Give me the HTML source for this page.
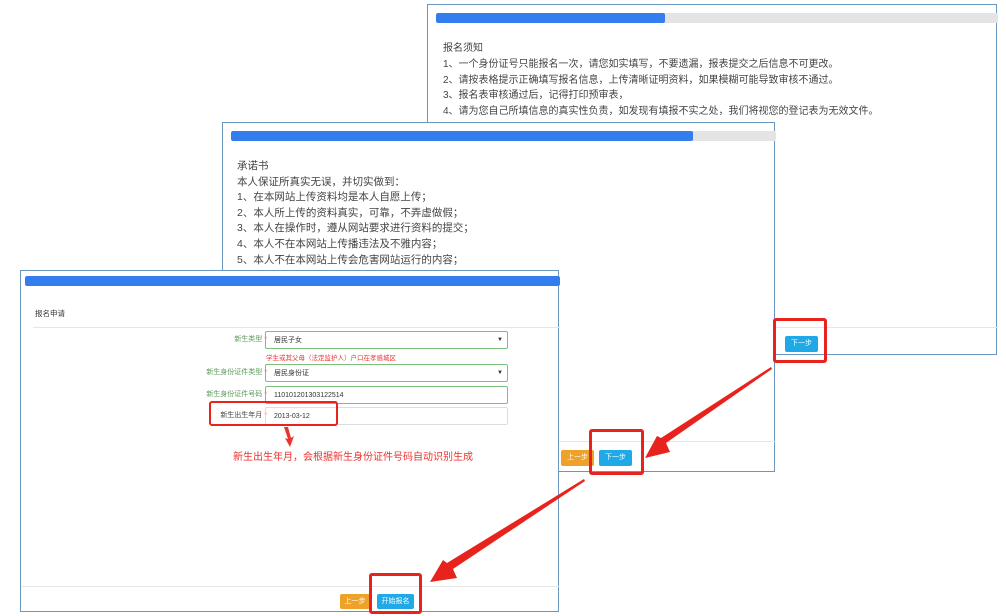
<!DOCTYPE html>
<html><head><meta charset="utf-8"><style>
*{margin:0;padding:0;box-sizing:border-box}
body{width:1006px;height:616px;background:#fff;position:relative;overflow:hidden;font-family:"Liberation Sans","Noto Sans CJK SC",sans-serif;color:#444}
.p{position:absolute;background:#fff;border:1px solid #6a97bf}
.a{position:absolute}
.bar{position:absolute;background:#e4e4e4;border-radius:2px;overflow:hidden}
.bar i{display:block;height:100%;background:#337def;border-radius:2px}
.txt{position:absolute;white-space:nowrap}
.hr{position:absolute;height:1px;background:#e6e6e6}
.btn{position:absolute;color:#fff;font-size:7px;text-align:center;border-radius:2px}
.blue{background:#1fa9e6}.org{background:#eea22a}
.rb{position:absolute;border:3px solid #e8231e;border-radius:3px}
.lab{position:absolute;font-size:7px;color:#5a9a5a;text-align:right;white-space:nowrap}
.inp{position:absolute;border:1px solid #7cc07c;border-radius:2px;font-size:7px;padding-left:8px;color:#333;display:flex;align-items:center}
</style></head><body>

<div class="p" style="left:427px;top:4px;width:570px;height:351px">
  <div class="bar" style="left:8px;top:8px;width:562px;height:10px"><i style="width:229px"></i></div>
  <div class="txt" style="left:15px;top:36px;font-size:10px;line-height:15.8px">报名须知<br>1、一个身份证号只能报名一次，请您如实填写，不要遗漏，报表提交之后信息不可更改。<br>2、请按表格提示正确填写报名信息，上传清晰证明资料，如果模糊可能导致审核不通过。<br>3、报名表审核通过后，记得打印预审表，<br>4、请为您自己所填信息的真实性负责，如发现有填报不实之处，我们将视您的登记表为无效文件。</div>
  <div class="hr" style="left:0;top:322px;width:570px"></div>
  <div class="btn blue" style="left:357px;top:331px;width:33px;height:16px;line-height:16px">下一步</div>
</div>

<div class="p" style="left:222px;top:122px;width:553px;height:350px">
  <div class="bar" style="left:8px;top:8px;width:545px;height:10px"><i style="width:462px"></i></div>
  <div class="txt" style="left:14px;top:36px;font-size:10.5px;line-height:15.6px">承诺书<br>本人保证所真实无误，并切实做到：<br>1、在本网站上传资料均是本人自愿上传；<br>2、本人所上传的资料真实，可靠，不弄虚做假；<br>3、本人在操作时，遵从网站要求进行资料的提交；<br>4、本人不在本网站上传播违法及不雅内容；<br>5、本人不在本网站上传会危害网站运行的内容；</div>
  <div class="hr" style="left:0;top:318px;width:553px"></div>
  <div class="btn org" style="left:338px;top:327px;width:33px;height:16px;line-height:16px">上一步</div>
  <div class="btn blue" style="left:376px;top:327px;width:33px;height:16px;line-height:16px">下一步</div>
</div>

<div class="p" style="left:20px;top:270px;width:539px;height:342px">
  <div class="bar" style="left:4px;top:5px;width:535px;height:10px"><i style="width:100%"></i></div>
  <div class="txt" style="left:14px;top:37px;font-size:7.5px;color:#333">报名申请</div>
  <div class="hr" style="left:12px;top:56px;width:527px"></div>
  <div class="lab" style="right:291px;top:63px">新生类型 <span style="color:#e33">*</span></div>
  <div class="inp" style="left:244px;top:60px;width:243px;height:18px">居民子女<span style="position:absolute;right:4px;font-size:6px">▼</span></div>
  <div class="txt" style="left:245px;top:81px;font-size:6.5px;color:#e33">学生或其父母（法定监护人）户口在孝感城区</div>
  <div class="lab" style="right:291px;top:96px">新生身份证件类型 <span style="color:#e33">*</span></div>
  <div class="inp" style="left:244px;top:93px;width:243px;height:18px">居民身份证<span style="position:absolute;right:4px;font-size:6px">▼</span></div>
  <div class="lab" style="right:291px;top:118px">新生身份证件号码 <span style="color:#e33">*</span></div>
  <div class="inp" style="left:244px;top:115px;width:243px;height:18px">110101201303122514</div>
  <div class="lab" style="right:291px;top:139px;color:#444">新生出生年月 <span style="color:#e33">*</span></div>
  <div class="inp" style="left:244px;top:136px;width:243px;height:18px;border-color:#ddd">2013-03-12</div>
  <div class="txt" style="left:212px;top:177px;font-size:10px;color:#e8332e">新生出生年月，会根据新生身份证件号码自动识别生成</div>
  <div class="hr" style="left:0;top:315px;width:539px"></div>
  <div class="btn org" style="left:319px;top:323px;width:30px;height:15px;line-height:15px">上一步</div>
  <div class="btn blue" style="left:356px;top:323px;width:37px;height:15px;line-height:15px">开始报名</div>
</div>

<div class="rb" style="left:209px;top:401px;width:129px;height:25px;border-width:2px"></div>
<div class="rb" style="left:773px;top:318px;width:54px;height:45px"></div>
<div class="rb" style="left:589px;top:429px;width:55px;height:46px"></div>
<div class="rb" style="left:369px;top:573px;width:53px;height:41px"></div>

<svg class="a" style="left:0;top:0" width="1006" height="616">
  <polygon points="284,427 288,427 291,438 294,436 290,447 285,438 288,439" fill="#e8332e"/>
  <polygon points="771,367 772,369 666,443 670,452 645,458 657,436 661,438" fill="#e8231e"/>
  <polygon points="584,479 585,481 453,569 457,578 430,582 443,560 447,563" fill="#e8231e"/>
</svg>
</body></html>
